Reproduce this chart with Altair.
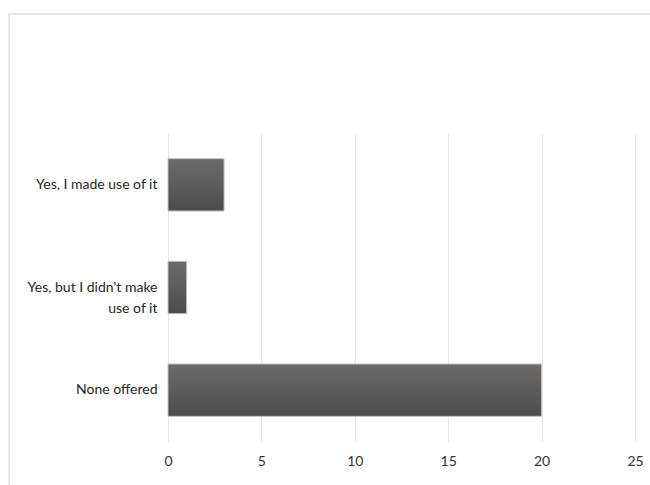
import altair as alt
import pandas as pd

categories = ["Yes, I made use of it", "Yes, but I didn't make use of it", "None offered"]
counts = [3, 1, 20]
x_ticks = [0, 5, 10, 15, 20, 25]

df = pd.DataFrame({"category": categories, "count": counts})

W, H = 467, 309
FONT = "Lato"

gradient = alt.LinearGradient(
    gradient="linear", x1=0, y1=0, x2=0, y2=1,
    stops=[alt.GradientStop(color="#6d6a68", offset=0),
           alt.GradientStop(color="#4e4c4a", offset=1)],
)

bars = alt.Chart(df).mark_bar(color=gradient, stroke="#c4c4c4", strokeWidth=1).encode(
    x=alt.X("count:Q", scale=alt.Scale(domain=[0, 25], nice=False),
            axis=alt.Axis(values=x_ticks, title=None, domain=False, ticks=False,
                          grid=True, gridColor="#e4e7ea", labelFont=FONT,
                          labelFontSize=14, labelColor="#333333", labelPadding=12,
                          labelFlush=False)),
    y=alt.Y("category:N", sort=categories,
            scale=alt.Scale(paddingInner=0.49, paddingOuter=0.25),
            axis=alt.Axis(title=None, domain=False, ticks=False, labelFont=FONT,
                          labelFontSize=14, labelColor="#262626", labelPadding=11,
                          labelLimit=300, labelLineHeight=21,
                          labelExpr="length(datum.label) > 22 ? [substring(datum.label, 0, 22), substring(datum.label, 23)] : datum.label")),
)

frame = alt.Chart(df).mark_rect(fill=None, stroke="#e6e6e6", strokeWidth=1.5).encode(
    x=alt.value(-159), x2=alt.value(520), y=alt.value(-119), y2=alt.value(400)
)

chart = alt.layer(frame, bars).properties(
    width=W, height=H,
    autosize=alt.AutoSizeParams(type="none"),
    padding={"left": 168, "top": 133, "right": 15, "bottom": 43},
    background="white",
).configure_view(stroke=None)

chart.save("out.html", embed_options={"renderer": "svg", "actions": False})
